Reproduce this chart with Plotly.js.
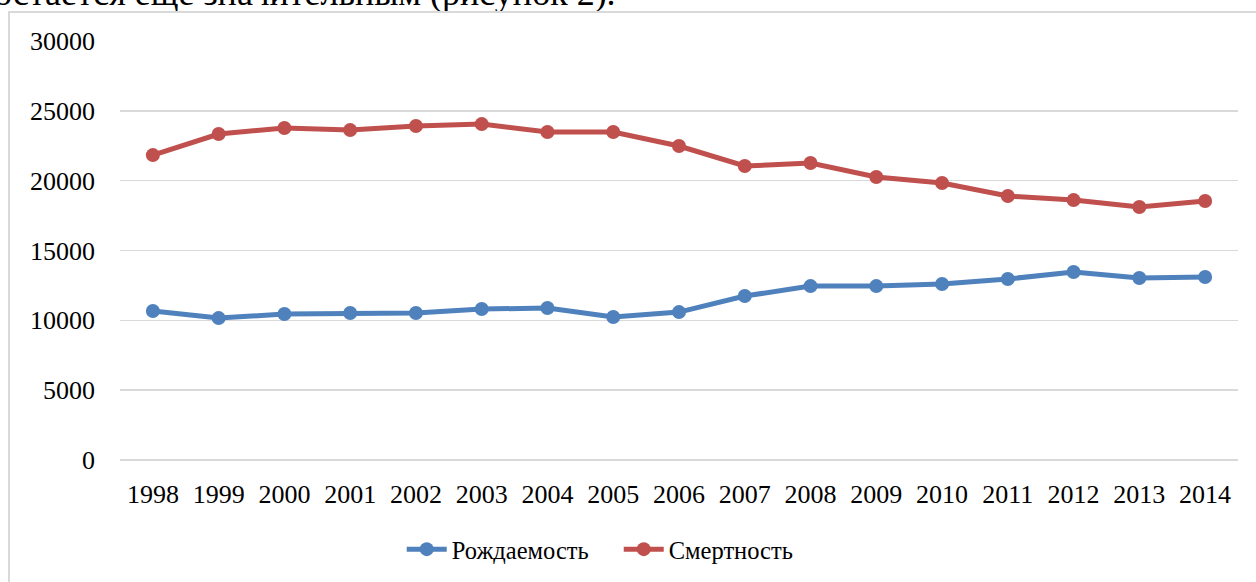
<!DOCTYPE html>
<html>
<head>
<meta charset="utf-8">
<script src="https://cdn.plot.ly/plotly-3.0.1.min.js"></script>
<style>
  html, body { margin: 0; padding: 0; background: #ffffff; overflow: hidden; }
  #wrap { position: relative; width: 1256px; height: 582px; overflow: hidden; }
  #frame { position: absolute; left: 8px; top: 11px; width: 1300px; height: 700px;
           border-left: 2px solid #d9d9d9; border-top: 2px solid #d9d9d9; }
  #caption { position: absolute; left: -6px; top: -25px; font-family: 'Liberation Serif';
             font-size: 36px; line-height: 36px; color: #000; white-space: nowrap; }
  #chart { position: absolute; left: 0; top: 0; width: 1256px; height: 582px; }
</style>
</head>
<body>
<div id="wrap">
  <div id="caption">остается еще значительным (рисунок 2).</div>
  <div id="frame"></div>
  <div id="chart"></div>
</div>
<script>
const years = ["1998","1999","2000","2001","2002","2003","2004","2005","2006","2007","2008","2009","2010","2011","2012","2013","2014"];
const birthRate = [10670, 10160, 10450, 10520, 10520, 10810, 10880, 10240, 10590, 11740, 12450, 12450, 12600, 12960, 13460, 13030, 13100];
const deathRate = [21830, 23340, 23770, 23620, 23910, 24050, 23480, 23480, 22480, 21050, 21260, 20260, 19830, 18900, 18610, 18110, 18540];
const seriesNames = ["Рождаемость", "Смертность"];
const yTicks = [0, 5000, 10000, 15000, 20000, 25000, 30000];

const font = "Liberation Serif";

const traces = [
  {
    x: years, y: birthRate, name: seriesNames[0], type: "scatter", mode: "lines+markers",
    line: { color: "#4f81bd", width: 5 },
    marker: { color: "#4f81bd", size: 14 }
  },
  {
    x: years, y: deathRate, name: seriesNames[1], type: "scatter", mode: "lines+markers",
    line: { color: "#c0504d", width: 5 },
    marker: { color: "#c0504d", size: 14 }
  }
];

const layout = {
  width: 1256, height: 582,
  margin: { l: 120, r: 18, t: 41, b: 122, autoexpand: false },
  paper_bgcolor: "rgba(0,0,0,0)",
  plot_bgcolor: "rgba(0,0,0,0)",
  font: { family: font, size: 26, color: "#000000" },
  showlegend: true,
  legend: {
    orientation: "h", x: 0.252, xanchor: "left", y: -0.213, yanchor: "middle",
    font: { family: font, size: 24.5, color: "#000000" },
    itemwidth: 40, entrywidth: 162, traceorder: "normal", bgcolor: "rgba(0,0,0,0)"
  },
  xaxis: {
    type: "category", range: [-0.5, 16.5],
    showgrid: false, zeroline: false,
    showline: false, ticks: "",
    ticklabelstandoff: 16,
    tickfont: { family: font, size: 26, color: "#000000" }
  },
  yaxis: {
    range: [0, 30000], tickvals: yTicks, tickformat: "d",
    showgrid: true, gridcolor: "#d9d9d9", gridwidth: 1.5,
    zeroline: true, zerolinecolor: "#d9d9d9", zerolinewidth: 1.5,
    showline: false, ticks: "",
    ticklabelstandoff: 24,
    tickfont: { family: font, size: 26, color: "#000000" }
  }
};

Plotly.newPlot("chart", traces, layout, { displayModeBar: false, staticPlot: true });
</script>
</body>
</html>
